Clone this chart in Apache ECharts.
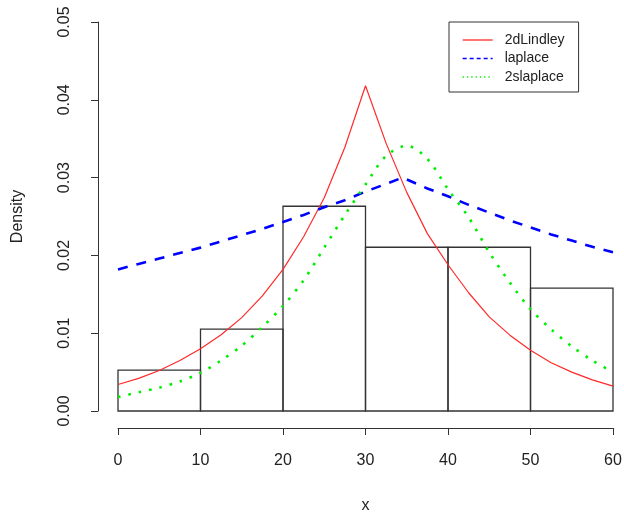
<!DOCTYPE html>
<html>
<head>
<meta charset="utf-8">
<script src="https://cdn.jsdelivr.net/npm/echarts@6/dist/echarts.min.js"></script>
<style>
html,body{margin:0;padding:0;background:#fff;}
#chart{width:624px;height:515px;}
</style>
</head>
<body>
<div id="chart"></div>
<script>
// Histogram
const binEdges = [0, 10, 20, 30, 40, 50, 60];
const histDensity = [0.00526, 0.01053, 0.02632, 0.02105, 0.02105, 0.01579];

// Tick labels
const xTicks = [0, 10, 20, 30, 40, 50, 60];
const yTicks = ['0.00', '0.01', '0.02', '0.03', '0.04', '0.05'];

// Series names
const seriesNames = ['2dLindley', 'laplace', '2slaplace'];

// 2dLindley (red, solid)
const lindleyX = [0,2.5,5,7.5,10,12.5,15,17.5,20,22.5,25,27.5,30,32.5,35,37.5,40,42.5,45,47.5,50,52.5,55,57.5,60];
const lindleyY = [0.0034,0.0042,0.0052,0.0065,0.0080,0.0098,0.0120,0.0148,0.0182,0.0224,0.0274,0.0339,0.0418,0.0344,0.0281,0.0228,0.0188,0.0152,0.0121,0.00975,0.0078,0.0062,0.0050,0.0040,0.0032];

// laplace (blue, dashed)
const laplaceX = [0,2.5,5,7.5,10,12.5,15,17.5,20,22.5,25,27.5,30,32.5,34.5,37.5,40,42.5,45,47.5,50,52.5,55,57.5,60];
const laplaceY = [0.0182,0.0189,0.0196,0.0203,0.0210,0.0218,0.0226,0.0234,0.0243,0.0252,0.0262,0.0271,0.0282,0.0292,0.0300,0.0286,0.0276,0.0265,0.0255,0.0245,0.0236,0.0227,0.0219,0.0211,0.0204];

// 2slaplace (green, dotted)
const slaplaceX = [0,2.5,5,7.5,10,12.5,15,17.5,20,22.5,25,27.5,30,32.5,35,37.5,40,42.5,45,47.5,50,52.5,55,57.5,60];
const slaplaceY = [0.0018,0.0024,0.0030,0.0038,0.0049,0.0065,0.0084,0.0108,0.0135,0.0168,0.0210,0.0252,0.0291,0.0328,0.0341,0.0324,0.0285,0.0249,0.0204,0.0165,0.0131,0.0105,0.0083,0.0065,0.0050];

const zip = (xs, ys) => xs.map((x, i) => [x, ys[i]]);
const histData = histDensity.map((d, i) => [binEdges[i], binEdges[i + 1], d]);

const chart = echarts.init(document.getElementById('chart'), null, {renderer: 'canvas'});
const font = 'Liberation Sans, Arial, sans-serif';
const axisColor = '#333';
const hiddenX = gi => ({type: 'value', gridIndex: gi, min: 0, max: 60, show: false});
const hiddenY = gi => ({type: 'value', gridIndex: gi, min: 0, max: 0.05, show: false});

chart.setOption({
  animation: false,
  backgroundColor: '#fff',
  grid: [
    {left: 118, right: 11, top: 22, bottom: 104, outerBoundsMode: 'none', containLabel: false},
    {left: 118, right: 11, top: 22, bottom: 87, outerBoundsMode: 'none', containLabel: false},
    {left: 98, right: 11, top: 22, bottom: 104, outerBoundsMode: 'none', containLabel: false}
  ],
  xAxis: [
    hiddenX(0),
    {
      type: 'value', gridIndex: 1, min: 0, max: 60, interval: 10,
      name: 'x', nameLocation: 'middle', nameGap: 70,
      nameTextStyle: {fontFamily: font, fontSize: 16, color: '#222'},
      axisLine: {show: true, lineStyle: {color: axisColor, width: 1}},
      axisTick: {show: true, length: 7, lineStyle: {color: axisColor}},
      axisLabel: {fontFamily: font, fontSize: 16, color: '#222', margin: 25,
        formatter: v => xTicks.indexOf(v) >= 0 ? String(v) : ''},
      splitLine: {show: false}
    },
    {type: 'value', gridIndex: 2, min: 0, max: 60, show: false}
  ],
  yAxis: [
    hiddenY(0),
    hiddenY(1),
    {
      type: 'value', gridIndex: 2, min: 0, max: 0.05, interval: 0.01,
      name: 'Density', nameLocation: 'middle', nameGap: 72, nameRotate: 90,
      nameTextStyle: {fontFamily: font, fontSize: 16, color: '#222'},
      axisLine: {show: true, lineStyle: {color: axisColor, width: 1}},
      axisTick: {show: true, length: 7, lineStyle: {color: axisColor}},
      axisLabel: {fontFamily: font, fontSize: 16, color: '#222', margin: 25, rotate: 90,
        formatter: v => yTicks[Math.round(v * 100)]},
      splitLine: {show: false}
    }
  ],
  legend: {
    orient: 'vertical', left: 449, top: 22,
    data: [
      {name: seriesNames[0], lineStyle: {width: 1.3, type: 'solid'}},
      {name: seriesNames[1], lineStyle: {width: 1.3, type: [4, 3]}},
      {name: seriesNames[2], lineStyle: {width: 1.3, type: [1.3, 3]}}
    ],
    itemWidth: 30, itemHeight: 14, itemGap: 4.5,
    padding: [11, 14, 8, 13],
    borderColor: '#333', borderWidth: 1, borderRadius: 0,
    backgroundColor: '#fff',
    itemStyle: {opacity: 0},
    textStyle: {fontFamily: font, fontSize: 14, color: '#222', padding: [0, 0, 0, 7]}
  },
  series: [
    {
      type: 'custom', name: 'hist', silent: true, z: 1,
      xAxisIndex: 0, yAxisIndex: 0,
      data: histData,
      encode: {x: [0, 1], y: 2},
      renderItem: (params, api) => {
        const p0 = api.coord([api.value(0), api.value(2)]);
        const p1 = api.coord([api.value(1), 0]);
        return {
          type: 'rect',
          shape: {x: p0[0], y: p0[1], width: p1[0] - p0[0], height: p1[1] - p0[1]},
          style: {fill: 'none', stroke: '#333', lineWidth: 1.3}
        };
      }
    },
    {
      type: 'line', name: seriesNames[0], data: zip(lindleyX, lindleyY), z: 3,
      xAxisIndex: 0, yAxisIndex: 0,
      showSymbol: false, symbol: 'none', smooth: false,
      lineStyle: {color: '#ff2a2a', width: 1.2, type: 'solid'},
      itemStyle: {color: '#ff2a2a'}
    },
    {
      type: 'line', name: seriesNames[1], data: zip(laplaceX, laplaceY), z: 4,
      xAxisIndex: 0, yAxisIndex: 0,
      showSymbol: false, symbol: 'none', smooth: false,
      lineStyle: {color: '#0000ff', width: 2.6, type: [10, 9]},
      itemStyle: {color: '#0000ff'}
    },
    {
      type: 'line', name: seriesNames[2], data: zip(slaplaceX, slaplaceY), z: 5,
      xAxisIndex: 0, yAxisIndex: 0,
      showSymbol: false, symbol: 'none', smooth: 0.3,
      lineStyle: {color: '#00ee00', width: 2.6, type: [2.6, 8]},
      itemStyle: {color: '#00ee00'}
    }
  ]
});
</script>
</body>
</html>
